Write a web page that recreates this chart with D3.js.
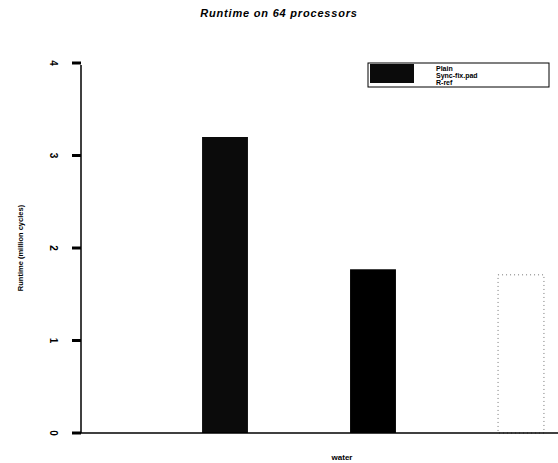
<!DOCTYPE html>
<html>
<head>
<meta charset="utf-8">
<script src="https://cdn.jsdelivr.net/npm/d3@7"></script>
<style>
  body { margin: 0; background: #fff; }
  text { font-family: "Liberation Sans", Arial, sans-serif; fill: #000; }
</style>
</head>
<body>
<svg id="svg" width="558" height="463"></svg>
<script>
const categories = ["water"];
const series = ["Plain", "Sync-fix.pad", "R-ref"];
const values = [3.2, 1.77, 1.71];
const yTicks = [0, 1, 2, 3, 4];

const width = 558;
const height = 463;
const svg = d3.select("#svg");

const y = d3.scaleLinear().domain([0, 4]).range([433, 63]);
const x0 = d3.scaleBand().domain(categories).range([81, 603]);
const x1 = d3.scaleBand().domain(series).range([151, 595])
  .paddingInner(0.69).paddingOuter(0.345);

// title
svg.append("text")
  .attr("x", 279).attr("y", 17)
  .attr("text-anchor", "middle")
  .attr("font-size", 11).attr("font-weight", "bold").attr("font-style", "italic")
  .attr("letter-spacing", 0.8)
  .text("Runtime on 64 processors");

// bars
const fills = { "Plain": "#0b0b0b", "Sync-fix.pad": "#000", "R-ref": "#fff" };
svg.selectAll(".bar")
  .data(series)
  .enter()
  .append("rect")
  .attr("class", "bar")
  .attr("x", d => x1(d))
  .attr("y", (d, i) => y(values[i]))
  .attr("width", x1.bandwidth())
  .attr("height", (d, i) => y(0) - y(values[i]))
  .attr("fill", d => fills[d])
  .attr("stroke", d => d === "R-ref" ? "#777" : "none")
  .attr("stroke-dasharray", d => d === "R-ref" ? "1,3" : null)
  .attr("stroke-width", 1);

// axes
svg.append("line")
  .attr("x1", 81).attr("x2", 81)
  .attr("y1", y(4) + 2).attr("y2", y(0))
  .attr("stroke", "#000").attr("stroke-width", 1.5);
svg.append("line")
  .attr("x1", 81).attr("x2", width)
  .attr("y1", y(0)).attr("y2", y(0))
  .attr("stroke", "#000").attr("stroke-width", 1.5);

const tick = svg.selectAll(".tick")
  .data(yTicks)
  .enter()
  .append("g")
  .attr("class", "tick");
tick.append("line")
  .attr("x1", 72).attr("x2", 81)
  .attr("y1", d => y(d)).attr("y2", d => y(d))
  .attr("stroke", "#000").attr("stroke-width", 3);
tick.append("text")
  .attr("transform", d => `translate(53, ${y(d)}) rotate(90)`)
  .attr("text-anchor", "middle")
  .attr("dy", "0.35em")
  .attr("font-size", 10).attr("font-weight", "bold")
  .text(d => d);

// y label
svg.append("text")
  .attr("transform", `translate(23, ${y(2)}) rotate(-90)`)
  .attr("text-anchor", "middle")
  .attr("font-size", 7.5).attr("font-weight", "bold")
  .text("Runtime (million cycles)");

// x label
svg.append("text")
  .attr("x", x0("water") + x0.bandwidth() / 2)
  .attr("y", 460)
  .attr("text-anchor", "middle")
  .attr("font-size", 8).attr("font-weight", "bold")
  .text("water");

// legend
const legend = svg.append("g");
legend.append("rect")
  .attr("x", 368).attr("y", 63).attr("width", 181).attr("height", 24)
  .attr("fill", "#fff").attr("stroke", "#000").attr("stroke-width", 1);
legend.selectAll(".sw")
  .data(series)
  .enter()
  .append("rect")
  .attr("x", 370)
  .attr("y", (d, i) => 64 + i * 6.5)
  .attr("width", 44)
  .attr("height", (d, i) => i === 0 ? 19 : 0)
  .attr("fill", d => fills[d]);
legend.selectAll(".lt")
  .data(series)
  .enter()
  .append("text")
  .attr("x", 436)
  .attr("y", (d, i) => 71 + i * 7)
  .attr("font-size", 7).attr("font-weight", "bold")
  .text(d => d);
</script>
</body>
</html>
